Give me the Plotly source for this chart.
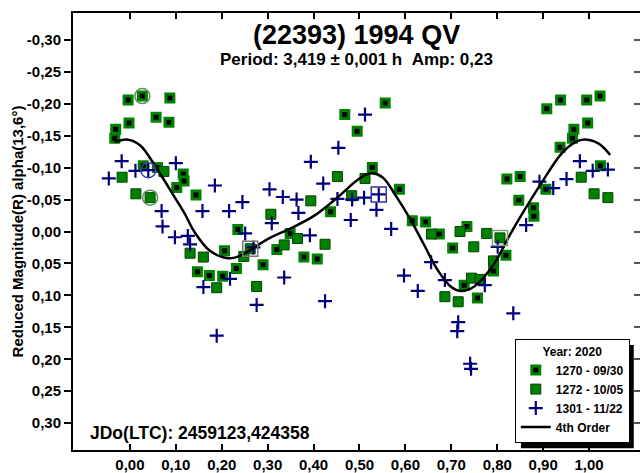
import plotly.graph_objects as go

# ---- rotational phase / reduced magnitude, three sessions ----
s1270_phase = [-0.033, -0.031, -0.004, -0.002, 0.027, 0.029, 0.057, 0.060, 0.085, 0.087,
               0.102, 0.116, 0.118, 0.144, 0.147, 0.173, 0.202, 0.206, 0.232, 0.235,
               0.290, 0.320, 0.349, 0.379, 0.408, 0.437, 0.468, 0.495, 0.528, 0.556,
               0.587, 0.615, 0.644, 0.674, 0.703, 0.728, 0.734, 0.757, 0.792, 0.819,
               0.821, 0.847, 0.850, 0.879, 0.880, 0.906, 0.908, 0.937, 0.938, 0.964,
               0.967, 0.995, 0.997, 1.024, 1.025]
s1270_mag = [-0.146, -0.160, -0.206, -0.170, -0.212, -0.103, -0.179, -0.100, -0.171, -0.209,
             -0.069, -0.090, -0.079, -0.057, 0.063, 0.069, 0.070, 0.030, 0.058, -0.003,
             0.052, 0.028, 0.003, 0.040, 0.043, -0.031, -0.183, -0.157, -0.100, -0.201,
             -0.066, -0.017, -0.015, 0.004, 0.026, 0.084, -0.008, 0.104, 0.062, 0.037,
             -0.082, -0.049, -0.086, -0.037, -0.024, -0.066, -0.192, -0.132, -0.206, -0.146,
             -0.160, -0.206, -0.170, -0.212, -0.103]

s1272_phase = [-0.017, 0.013, 0.044, 0.074, 0.131, 0.160, 0.189, 0.248, 0.262, 0.276,
               0.307, 0.336, 0.365, 0.394, 0.425, 0.452, 0.483, 0.512, 0.657, 0.686,
               0.715, 0.719, 0.744, 0.749, 0.763, 0.777, 0.792, 0.806, 0.983, 1.011,
               1.041]
s1272_mag = [-0.085, -0.059, -0.053, -0.094, 0.034, 0.040, 0.088, 0.039, 0.027, 0.086,
             -0.027, 0.021, 0.011, -0.048, 0.020, -0.086, -0.056, -0.083, 0.004, 0.102,
             0.110, 0.000, 0.073, 0.024, 0.075, 0.003, 0.046, 0.010, -0.085, -0.059,
             -0.053]

s1301_phase = [-0.046, -0.018, 0.012, 0.040, 0.069, 0.071, 0.098, 0.100, 0.126, 0.131,
               0.158, 0.160, 0.185, 0.189, 0.216, 0.218, 0.245, 0.251, 0.269, 0.276,
               0.304, 0.309, 0.333, 0.336, 0.363, 0.367, 0.392, 0.394, 0.421, 0.425,
               0.452, 0.454, 0.481, 0.484, 0.510, 0.512, 0.537, 0.542, 0.569, 0.597,
               0.627, 0.656, 0.686, 0.713, 0.715, 0.741, 0.743, 0.773, 0.801, 0.835,
               0.863, 0.892, 0.922, 0.951, 0.980, 1.008, 1.041]
s1301_mag = [-0.083, -0.110, -0.095, -0.096, -0.032, -0.008, 0.009, -0.107, 0.007, 0.020,
             -0.032, 0.087, -0.072, 0.163, -0.032, 0.074, -0.046, 0.003, 0.025, 0.115,
             -0.066, -0.013, -0.054, 0.072, -0.050, -0.029, 0.006, -0.109, -0.075, 0.109,
             -0.051, -0.131, -0.018, -0.050, -0.053, -0.183, -0.034, -0.058, -0.004, 0.069,
             0.093, 0.048, 0.076, 0.156, 0.142, 0.207, 0.215, 0.084, 0.024, 0.128,
             -0.010, -0.078, -0.068, -0.082, -0.110, -0.095, -0.097]

# 4th order Fourier fit, sampled along phase
fit_phase = [-0.033, -0.007, 0.022, 0.058, 0.098, 0.120, 0.140, 0.174, 0.215, 0.240,
             0.260, 0.300, 0.350, 0.400, 0.450, 0.500, 0.525, 0.550, 0.580, 0.610,
             0.640, 0.670, 0.700, 0.720, 0.750, 0.790, 0.830, 0.870, 0.900, 0.940,
             0.970, 0.990, 1.020, 1.046]
fit_mag = [-0.140, -0.144, -0.135, -0.099, -0.053, -0.027, 0.000, 0.030, 0.042, 0.038,
           0.030, 0.012, -0.005, -0.024, -0.052, -0.083, -0.091, -0.085, -0.055, -0.020,
           0.020, 0.060, 0.087, 0.093, 0.086, 0.054, 0.002, -0.046, -0.080, -0.122,
           -0.140, -0.144, -0.138, -0.120]

# axis ticks
x_ticks = [0.0, 0.1, 0.2, 0.3, 0.4, 0.5, 0.6, 0.7, 0.8, 0.9, 1.0]
x_labels = ["0,00", "0,10", "0,20", "0,30", "0,40", "0,50", "0,60", "0,70", "0,80", "0,90", "1,00"]
y_ticks = [-0.30, -0.25, -0.20, -0.15, -0.10, -0.05, 0.0, 0.05, 0.10, 0.15, 0.20, 0.25, 0.30]
y_labels = ["-0,30", "-0,25", "-0,20", "-0,15", "-0,10", "-0,05", "0,00",
            "0,05", "0,10", "0,15", "0,20", "0,25", "0,30"]

FONT = "Liberation Sans, Arial, sans-serif"
GREEN = "#008200"
NAVY = "#00007f"

fig = go.Figure()

fig.add_trace(go.Scatter(
    x=s1270_phase, y=s1270_mag, mode="markers", name="1270 - 09/30",
    marker=dict(symbol="square", size=8, color="black",
                line=dict(color=GREEN, width=3)),
))
fig.add_trace(go.Scatter(
    x=s1272_phase, y=s1272_mag, mode="markers", name="1272 - 10/05",
    marker=dict(symbol="square", size=10, color=GREEN,
                line=dict(color="#004400", width=1)),
))
fig.add_trace(go.Scatter(
    x=s1301_phase, y=s1301_mag, mode="markers", name="1301 - 11/22",
    marker=dict(symbol="cross-thin", size=10, color=NAVY,
                line=dict(color=NAVY, width=2.2)),
))
fig.add_trace(go.Scatter(
    x=fit_phase, y=fit_mag, mode="lines", name="4th Order",
    line=dict(color="black", width=2.5, shape="spline", smoothing=1.0),
))

# session start markers (rings and boxes)
marks = [
    (s1270_phase, s1270_mag, 4, "circle-open", "#5f8f5f"),
    (s1272_phase, s1272_mag, 2, "circle-open", "#5f8f5f"),
    (s1301_phase, s1301_mag, 3, "circle-open", "#3040b0"),
    (s1272_phase, s1272_mag, 8, "square-open", "#777777"),
    (s1301_phase, s1301_mag, 37, "square-open", "#3030a0"),
    (s1272_phase, s1272_mag, 27, "square-open", "#80a080"),
]
for px, py, i, sym, col in marks:
    fig.add_trace(go.Scatter(
        x=[px[i]], y=[py[i]], mode="markers", showlegend=False, hoverinfo="skip",
        marker=dict(symbol=sym, size=15, color=col, line=dict(color=col, width=1.5)),
    ))

# right-hand tick marks pointing inward
fig.add_trace(go.Scatter(x=[None], y=[None], yaxis="y2", showlegend=False, hoverinfo="skip"))

fig.update_layout(
    width=640, height=473,
    margin=dict(l=73, r=0, t=13, b=18),
    paper_bgcolor="white", plot_bgcolor="white",
    font=dict(family=FONT, color="black"),
    showlegend=True,
    xaxis=dict(
        range=[-0.124, 1.111], tickvals=x_ticks, ticktext=x_labels,
        ticks="inside", ticklen=6, tickwidth=1.5, tickcolor="black",
        showline=True, linecolor="black", linewidth=2, mirror="ticks",
        showgrid=False, zeroline=False,
        tickfont=dict(family=FONT, size=15, color="black", weight="bold"),
    ),
    yaxis=dict(
        range=[0.342, -0.342], tickvals=y_ticks, ticktext=y_labels,
        ticks="outside", ticklen=7, tickwidth=1.5, tickcolor="black",
        showline=True, linecolor="black", linewidth=2, mirror=False,
        showgrid=False, zeroline=False,
        tickfont=dict(family=FONT, size=15, color="black", weight="bold"),
        title=dict(text="Reduced Magnitude(R) alpha(13,6°)", standoff=0,
                   font=dict(family=FONT, size=15, color="black", weight="bold")),
    ),
    yaxis2=dict(
        overlaying="y", side="right", range=[0.342, -0.342], tickvals=y_ticks,
        ticks="inside", ticklen=6, tickwidth=1.5, tickcolor="#555555",
        showticklabels=False, showline=False, showgrid=False, zeroline=False,
    ),
    legend=dict(
        x=0.982, y=0.016, xanchor="right", yanchor="bottom",
        bgcolor="white", bordercolor="black", borderwidth=1,
        font=dict(family=FONT, size=12, color="black", weight="bold"),
        title=dict(text="Year: 2020", side="top center",
                   font=dict(family=FONT, size=12, color="black", weight="bold")),
        tracegroupgap=0, itemwidth=30,
    ),
    shapes=[
        # drop shadow behind the legend box
        dict(type="rect", xref="paper", yref="paper", layer="above",
             x0=0.79, x1=0.989, y0=0.004, y1=0.24,
             fillcolor="black", line=dict(width=0)),
    ],
    annotations=[
        dict(text="(22393) 1994 QV", x=0.5, y=0.95, xref="paper", yref="paper",
             xanchor="center", yanchor="middle", showarrow=False,
             font=dict(family=FONT, size=27, color="black", weight="bold")),
        dict(text="Period: 3,419 ± 0,001 h\u00a0\u00a0Amp: 0,23", x=0.5, y=0.893,
             xref="paper", yref="paper", xanchor="center", yanchor="middle",
             showarrow=False,
             font=dict(family=FONT, size=17, color="black", weight="bold")),
        dict(text="JDo(LTC): 2459123,424358", x=0.026, y=0.038, xref="paper",
             yref="paper", xanchor="left", yanchor="middle", showarrow=False,
             font=dict(family=FONT, size=17.5, color="black", weight="bold")),
    ],
)

fig.write_html("out.html")
